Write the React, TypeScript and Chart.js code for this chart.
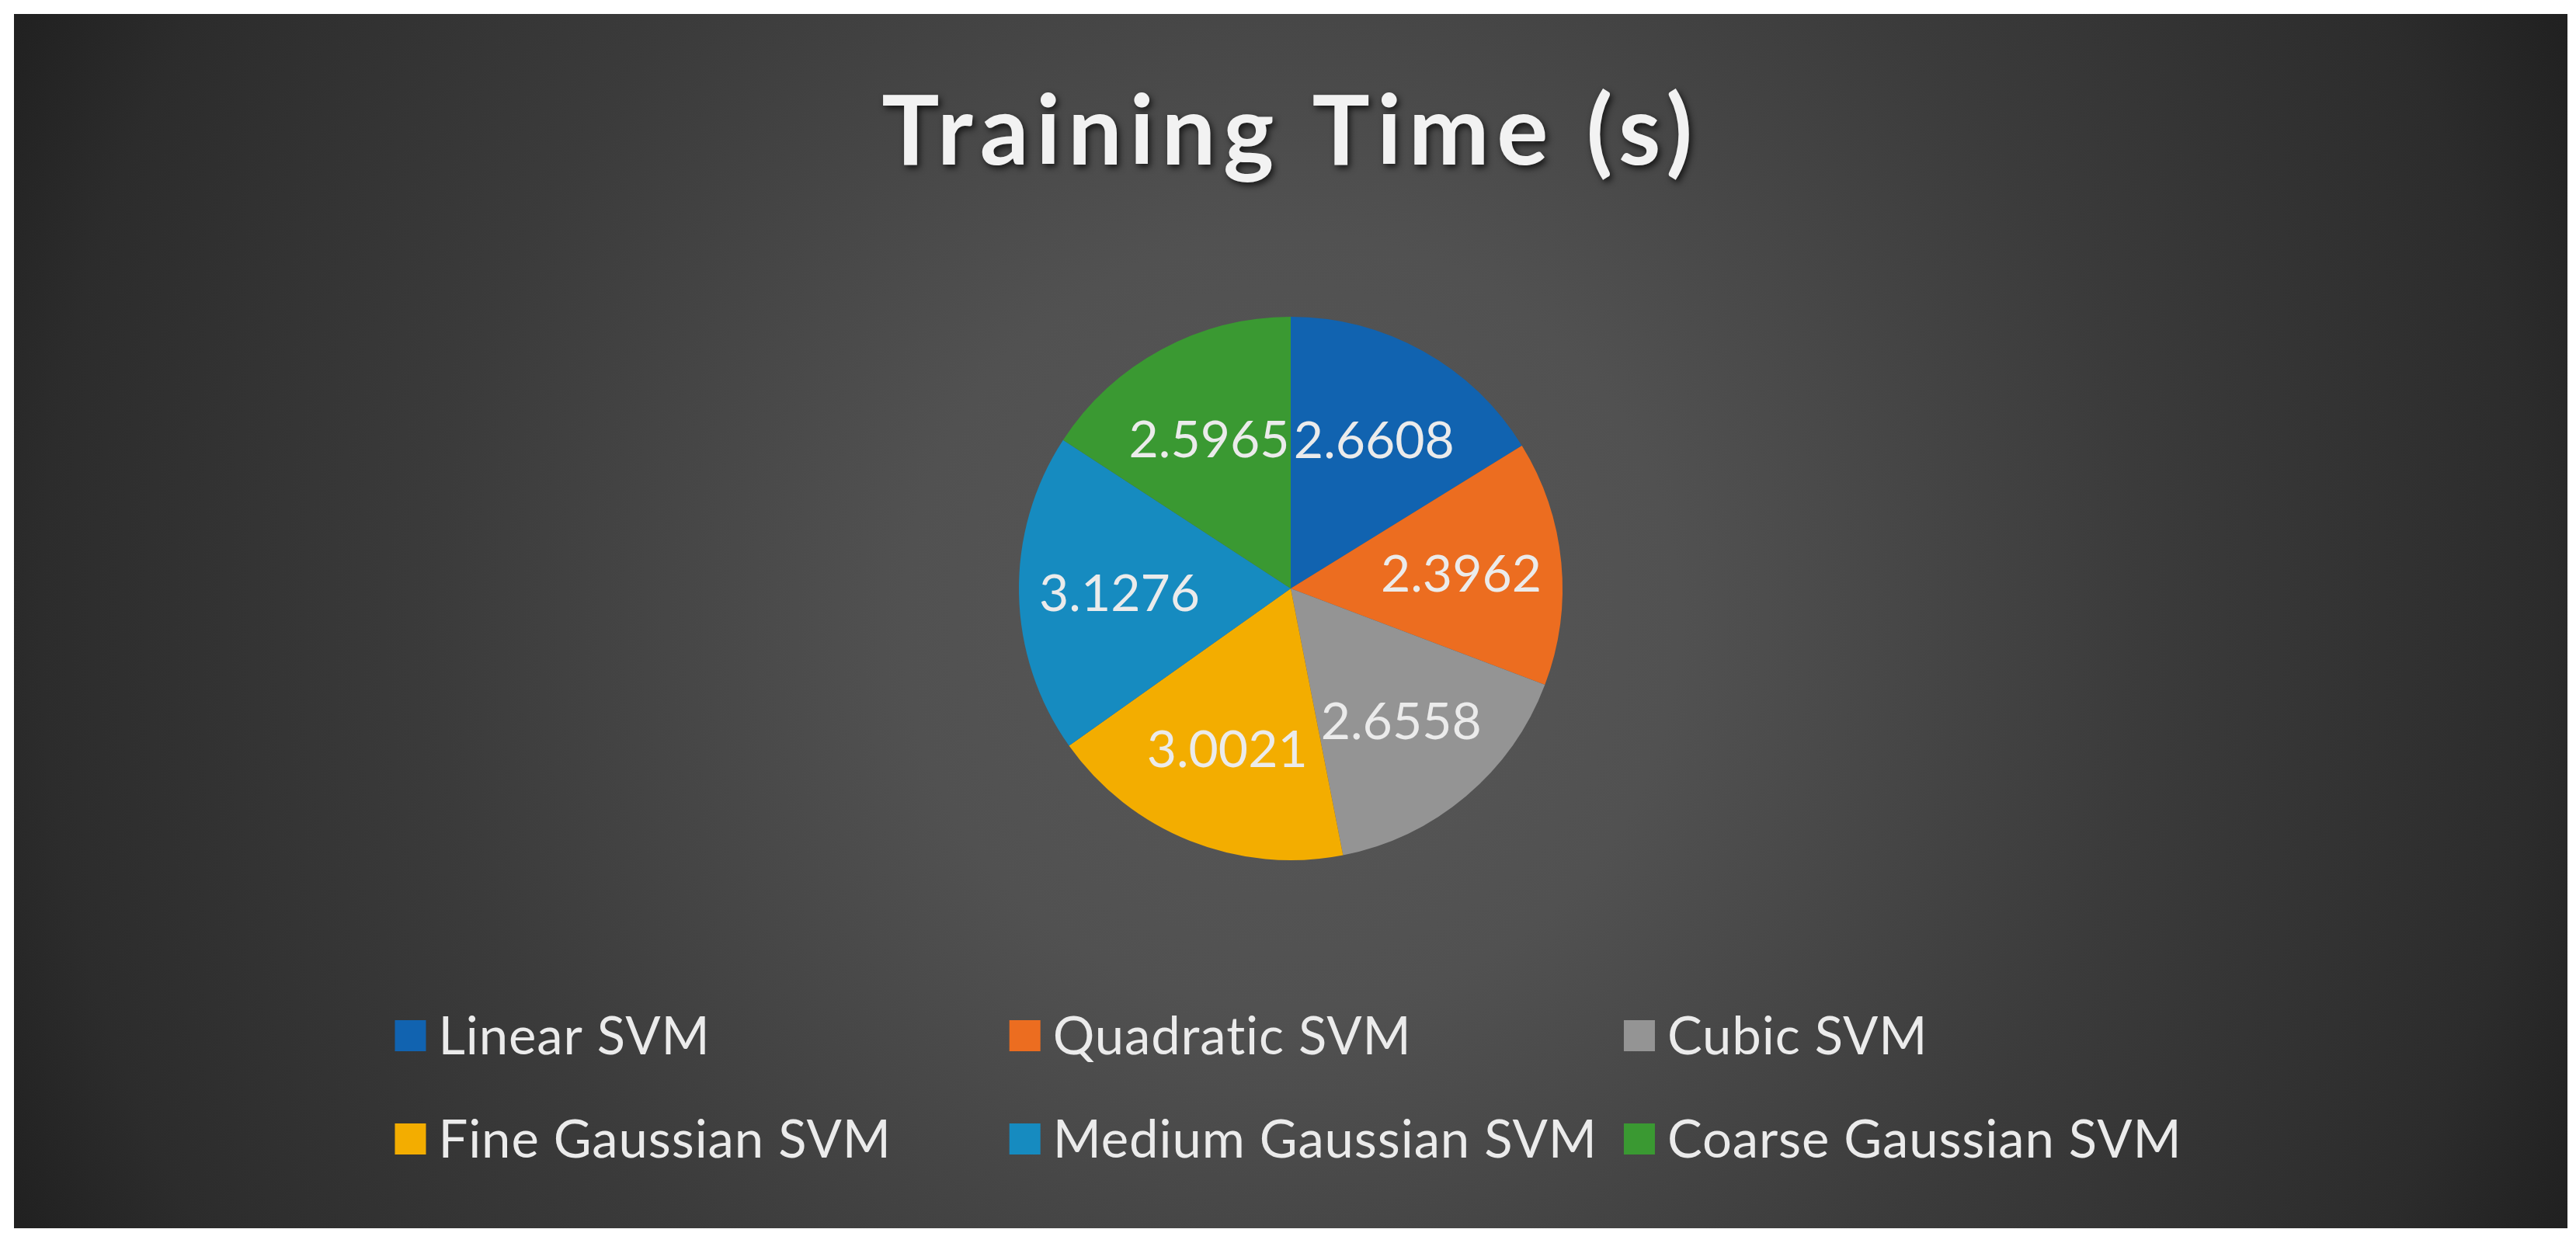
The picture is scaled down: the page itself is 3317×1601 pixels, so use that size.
import React, { useEffect, useRef } from "react";
import { Chart, registerables } from "chart.js";

Chart.register(...registerables);

// ---- data ----
const chartTitle = "Training Time (s)";
const categories = [
  "Linear SVM",
  "Quadratic SVM",
  "Cubic SVM",
  "Fine Gaussian SVM",
  "Medium Gaussian SVM",
  "Coarse Gaussian SVM",
];
const trainingTimes = [2.6608, 2.3962, 2.6558, 3.0021, 3.1276, 2.5965];
const sliceColors = ["#1163B0", "#EC6D20", "#949494", "#F3AD00", "#168BC0", "#3A9932"];

const FONT = "Lato, 'Open Sans', sans-serif";

const titlePlugin = {
  id: "officeTitle",
  afterDraw(chart: any) {
    const ctx = chart.ctx as CanvasRenderingContext2D;
    ctx.save();
    ctx.font = `bold 124px ${FONT}`;
    ctx.fillStyle = "#F2F2F2";
    ctx.textAlign = "center";
    ctx.textBaseline = "alphabetic";
    (ctx as any).letterSpacing = "9.5px";
    ctx.shadowColor = "rgba(0,0,0,0.7)";
    ctx.shadowBlur = 8;
    ctx.shadowOffsetX = 3;
    ctx.shadowOffsetY = 4;
    ctx.fillText(chartTitle, chart.width / 2, 194);
    ctx.restore();
  },
};

const valueLabelPlugin = {
  id: "valueLabels",
  afterDatasetsDraw(chart: any) {
    const ctx = chart.ctx as CanvasRenderingContext2D;
    const meta = chart.getDatasetMeta(0);
    const values = chart.data.datasets[0].data as number[];
    const size = 66;
    ctx.save();
    ctx.font = `${size}px ${FONT}`;
    ctx.fillStyle = "#EBEBEB";
    ctx.textAlign = "center";
    ctx.textBaseline = "alphabetic";
    meta.data.forEach((arc: any, i: number) => {
      const p = arc.getProps(["x", "y", "startAngle", "endAngle", "outerRadius"], true);
      const mid = (p.startAngle + p.endAngle) / 2;
      const r = p.outerRadius * 0.63;
      const cx = p.x + Math.cos(mid) * r;
      const cy = p.y + Math.sin(mid) * r;
      ctx.fillText(values[i].toFixed(4), cx, cy + size * 0.38);
    });
    ctx.restore();
  },
};

const legendPlugin = {
  id: "gridLegend",
  afterDraw(chart: any) {
    const ctx = chart.ctx as CanvasRenderingContext2D;
    const labels = chart.data.labels as string[];
    const colors = chart.data.datasets[0].backgroundColor as string[];
    const size = 67;
    const box = 40;
    const gap = 16;
    const colGap = 34;
    const ncols = 3;
    const rowY = [1316, 1449];
    ctx.save();
    ctx.font = `${size}px ${FONT}`;
    (ctx as any).letterSpacing = "0.9px";
    const widths = labels.map((l) => box + gap + ctx.measureText(l).width);
    const colW = Math.max(...widths) + colGap;
    const lastColMax = Math.max(...widths.filter((_, i) => i % ncols === ncols - 1));
    const total = (ncols - 1) * colW + lastColMax;
    const startX = chart.width / 2 - total / 2 - 3;
    ctx.textAlign = "left";
    ctx.textBaseline = "alphabetic";
    labels.forEach((l, i) => {
      const col = i % ncols;
      const row = Math.floor(i / ncols);
      const x = startX + col * colW;
      const y = rowY[row];
      ctx.fillStyle = colors[i];
      ctx.fillRect(x, y - box / 2, box, box);
      ctx.fillStyle = "#EBEBEB";
      ctx.fillText(l, x + box + gap, y + size * 0.36);
    });
    ctx.restore();
  },
};

export default function App() {
  const ref = useRef<HTMLCanvasElement>(null);
  useEffect(() => {
    const chart = new Chart(ref.current as HTMLCanvasElement, {
      type: "pie",
      data: {
        labels: categories,
        datasets: [
          {
            data: trainingTimes,
            backgroundColor: sliceColors,
            borderWidth: 0,
          },
        ],
      },
      options: {
        animation: false,
        responsive: false,
        maintainAspectRatio: false,
        events: [],
        layout: { padding: { top: 390, bottom: 474, left: 0, right: 0 } },
        plugins: {
          legend: { display: false },
          title: { display: false },
          tooltip: { enabled: false },
        },
      },
      plugins: [titlePlugin, valueLabelPlugin, legendPlugin],
    });
    return () => chart.destroy();
  }, []);

  return (
    <div
      style={{
        position: "absolute",
        left: 18,
        top: 18,
        width: 3288,
        height: 1564,
        background:
          "radial-gradient(circle at 1644px 782px, #585858 0px, #515151 500px, #484848 750px, #3b3b3b 1100px, #2c2c2c 1610px, #212121 1810px)",
      }}
    >
      <canvas ref={ref} width={3288} height={1564} style={{ display: "block", width: 3288, height: 1564 }} />
    </div>
  );
}
